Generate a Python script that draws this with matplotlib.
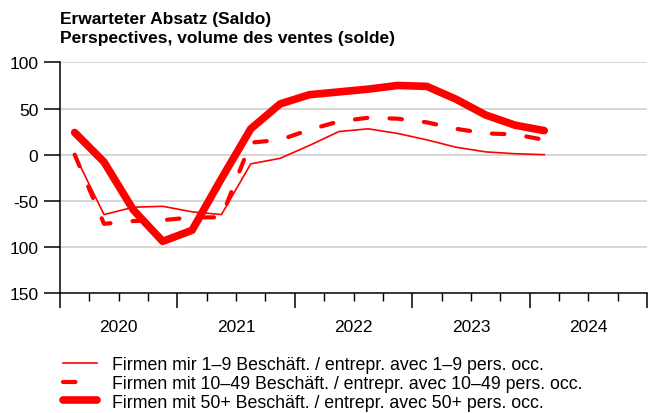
import numpy as np
import matplotlib.pyplot as plt
from matplotlib.ticker import FixedLocator

# quarterly values, Q1 2020 .. Q1 2024
quarters = np.arange(17)
small = [0, -65, -57, -56, -62, -65, -10, -4, 10, 25, 28, 23, 16, 8, 3, 1, 0]
medium = [0, -75, -72, -71, -68, -68, 13, 16, 27, 36, 40, 39, 35, 28, 23, 22, 16]
large = [24, -8, -60, -94, -82, -26, 28, 55, 65, 68, 71, 75, 74, 60, 43, 32, 26]

years = [2020, 2021, 2022, 2023, 2024]
ytick_vals = [100, 50, 0, -50, -100, -150]
ytick_labels = ['100', '50', '0', '-50', '100', '150']

labels = [
    'Firmen mir 1\u20139 Besch\u00e4ft. / entrepr. avec 1\u20139 pers. occ.',
    'Firmen mit 10\u201349 Besch\u00e4ft. / entrepr. avec 10\u201349 pers. occ.',
    'Firmen mit 50+ Besch\u00e4ft. / entrepr. avec 50+ pers. occ.',
]

plt.rcParams['font.family'] = ['Liberation Sans', 'DejaVu Sans']

fig = plt.figure(figsize=(6.56, 4.14), dpi=100)
ax = fig.add_axes([60 / 656, 1 - 294 / 414, 587 / 656, (294 - 63.4) / 414])

x = 2020 + (quarters + 0.5) / 4
red = '#ff0000'
ax.plot(x, small, color=red, lw=1.2, label=labels[0], solid_joinstyle='round')
ax.plot(x, medium, color=red, lw=3, linestyle=(0, (3, 5.3)), dash_capstyle='round',
        label=labels[1])
ax.plot(x, large, color=red, lw=5.5, solid_capstyle='round', solid_joinstyle='round',
        label=labels[2])

ax.set_xlim(2020, 2025)
ax.set_ylim(-150, 100)

# gridlines
for v in ytick_vals[:-1]:
    ax.axhline(v, color='#d0d0d0', lw=1.2, zorder=0)

ax.set_yticks(ytick_vals)
ax.set_yticklabels(ytick_labels)

# year boundaries as major ticks, quarters as minor ticks with year labels in the middle
ax.set_xticks(range(2020, 2026))
ax.set_xticklabels([])
minor_pos = []
minor_lab = []
for yr in years:
    for q in (0.25, 0.5, 0.75):
        minor_pos.append(yr + q)
        minor_lab.append(str(yr) if q == 0.5 else '')
ax.xaxis.set_minor_locator(FixedLocator(minor_pos))
ax.set_xticks(minor_pos, minor=True)
ax.set_xticklabels(minor_lab, minor=True)

for s in ['top', 'right']:
    ax.spines[s].set_visible(False)
for s in ['left', 'bottom']:
    ax.spines[s].set_linewidth(1.1)

ax.tick_params(axis='y', length=11.5, width=1.1, pad=4, labelsize=12.5)
ax.tick_params(axis='x', which='major', length=11, width=1.1)
ax.tick_params(axis='x', which='minor', length=5.8, width=1.0, pad=13, labelsize=12.5)

fig.text(60 / 656, 1 - 12 / 414, 'Erwarteter Absatz (Saldo)\nPerspectives, volume des ventes (solde)',
         ha='left', va='top', fontsize=12.5, fontweight='bold', linespacing=1.3)

leg = fig.legend(loc='upper left', bbox_to_anchor=(56 / 656, 1 - 350 / 414), frameon=False,
                 fontsize=12.8, handlelength=1.9, handletextpad=0.84, labelspacing=0.1,
                 borderaxespad=0)
# only one dash visible in the legend sample
leg.get_lines()[1].set_linestyle((0, (3, 9)))

fig.savefig('out.png', dpi=100)
